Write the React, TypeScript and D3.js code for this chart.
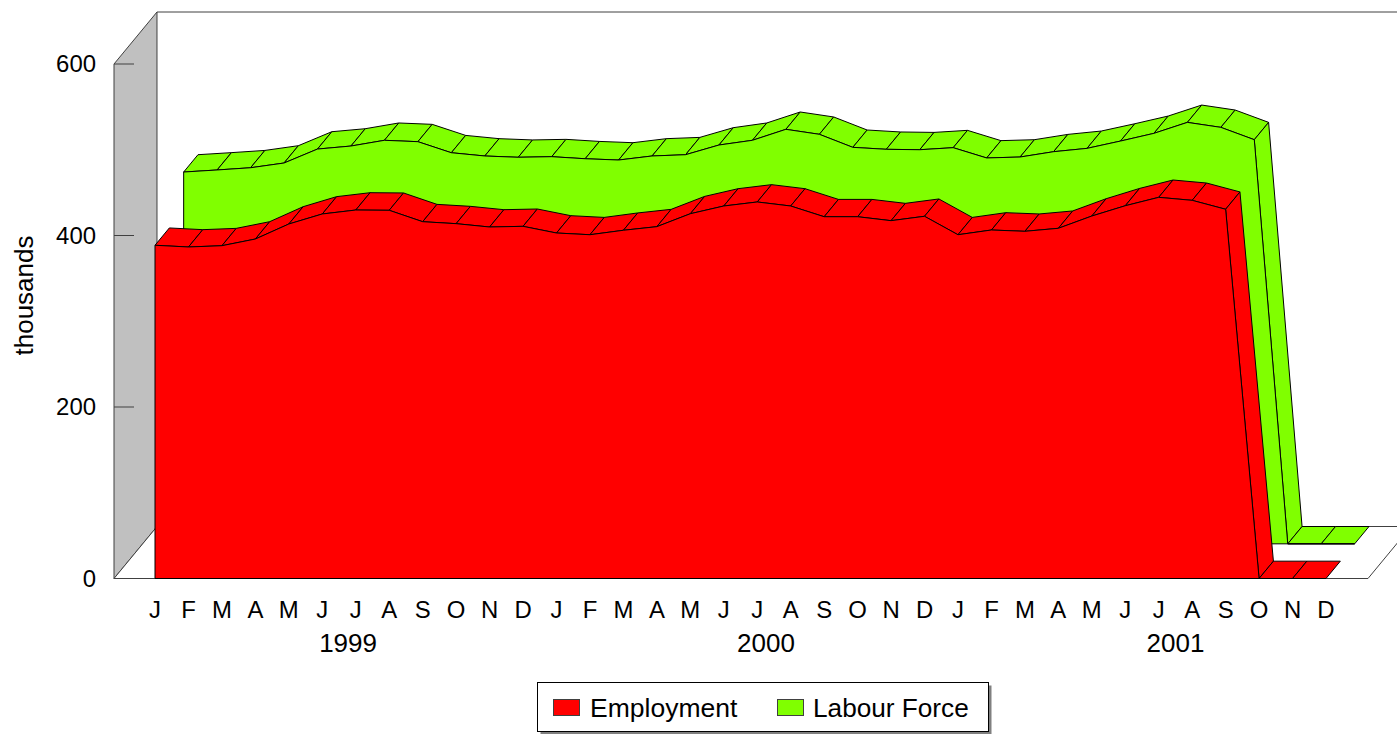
import React from "react";
import * as d3 from "d3";

const months = ["J","F","M","A","M","J","J","A","S","O","N","D","J","F","M","A","M","J","J","A","S","O","N","D","J","F","M","A","M","J","J","A","S","O","N","D"];
const years = [
  { label: "1999", pos: 5.77 },
  { label: "2000", pos: 18.26 },
  { label: "2001", pos: 30.5 },
];
const employment = [388.6,386.6,388.1,395.9,413.4,425.1,429.7,429.4,416.1,413.8,409.9,410.7,402.9,400.9,406.1,410.3,425.4,434.4,439.1,434.4,421.9,421.9,417.3,422.4,400.9,406.4,404.9,408.4,422.7,434.7,444.5,441,430.6,0,0,0];
const labourForce = [433.6,436,438.6,444.1,460.4,463.9,470.6,469,456.1,452.3,450.8,451.5,449.1,447.6,452.3,453.8,465.1,470.6,483.4,477.6,462.4,460.1,459.6,462,450,451.1,457.3,461.2,469.7,478.7,491.5,485.7,471.3,0,0,0];
const yTicks = [0, 200, 400, 600];

const series = [
  { name: "Labour Force", values: labourForce, color: "#80ff00", slot: 2 },
  { name: "Employment", values: employment, color: "#ff0000", slot: 0 },
];

const width = 1397;
const height = 734;
const font = "'Liberation Sans', Arial, sans-serif";

// one depth slot of the fake 3d projection
const dx = 14.33;
const dy = -17.33;

const x = d3.scaleLinear().domain([0, months.length - 1]).range([155, 1326]);
const y = d3.scaleLinear().domain([0, 600]).range([578.5, 64]);

const wallX = 114;
const floorRight = 1368;
const depthX = dx * 3;
const depthY = dy * 3;

const poly = (pts: [number, number][]) => d3.line()(pts) + "Z";

// the labels in the reference are a little wider than they are tall
const Label = ({ x, y, size, anchor, children }: any) => (
  <text
    transform={`translate(${x},${y}) scale(1.04,1)`}
    textAnchor={anchor}
    fontSize={size}
  >
    {children}
  </text>
);

const Ribbon = ({ values, color, slot }: { values: number[]; color: string; slot: number }) => {
  const ox = dx * slot;
  const oy = dy * slot;
  const front = values.map((v, i) => [x(i) + ox, y(v) + oy] as [number, number]);
  const base: [number, number][] = [
    [x(values.length - 1) + ox, y(0) + oy],
    [x(0) + ox, y(0) + oy],
  ];
  return (
    <g stroke="#000" strokeWidth={1} strokeLinejoin="round">
      {front.slice(0, -1).map((p, i) => {
        const q = front[i + 1];
        return (
          <path
            key={i}
            d={poly([p, q, [q[0] + dx, q[1] + dy], [p[0] + dx, p[1] + dy]])}
            fill={color}
          />
        );
      })}
      <path d={poly([...front, ...base])} fill={color} />
    </g>
  );
};

export default function App() {
  return (
    <svg
      width={width}
      height={height}
      style={{ position: "absolute", left: 0, top: 0, display: "block" }}
      fontFamily={font}
      fill="#000"
    >
      <rect width={width} height={height} fill="#fff" />

      {/* walls and floor */}
      <path
        d={poly([[wallX, y(600)], [wallX + depthX, y(600) + depthY], [wallX + depthX, y(0) + depthY], [wallX, y(0)]])}
        fill="#c0c0c0"
        stroke="#404040"
      />
      <path
        d={`M${wallX + depthX},${y(600) + depthY}H${width}`}
        fill="none"
        stroke="#404040"
      />
      <path
        d={poly([[wallX, y(0)], [wallX + depthX, y(0) + depthY], [floorRight + depthX, y(0) + depthY], [floorRight, y(0)]])}
        fill="#fff"
        stroke="#404040"
      />
      {yTicks.map((t) => (
        <g key={t}>
          <line x1={wallX} x2={wallX + 20} y1={y(t)} y2={y(t)} stroke="#404040" />
          <Label x={96} y={y(t) + 8} size={23} anchor="end">
            {t}
          </Label>
        </g>
      ))}

      {series.map((s) => (
        <Ribbon key={s.name} values={s.values} color={s.color} slot={s.slot} />
      ))}

      {/* x axis labels */}
      {months.map((m, i) => (
        <Label key={i} x={x(i)} y={618} size={23} anchor="middle">
          {m}
        </Label>
      ))}
      {years.map((d) => (
        <Label key={d.label} x={x(d.pos)} y={651.5} size={25} anchor="middle">
          {d.label}
        </Label>
      ))}
      <text
        transform="translate(33,295.5) rotate(-90)"
        textAnchor="middle"
        fontSize={26}
      >
        thousands
      </text>

      {/* legend */}
      <rect x={540.5} y={685.5} width={451} height={49} fill="#808080" />
      <rect x={537.5} y={682.5} width={451} height={49} fill="#fff" stroke="#000" />
      <rect x={553.5} y={699.5} width={26} height={16} fill="#ff0000" stroke="#404040" />
      <Label x={590} y={717} size={25.5}>Employment</Label>
      <rect x={777.5} y={699.5} width={26} height={16} fill="#80ff00" stroke="#404040" />
      <Label x={813} y={717} size={25.2}>Labour Force</Label>
    </svg>
  );
}
